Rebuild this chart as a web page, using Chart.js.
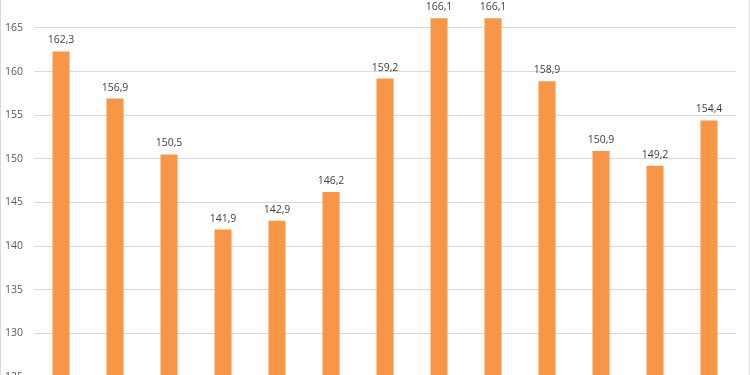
<!DOCTYPE html>
<html>
<head>
<meta charset="utf-8">
<script src="https://cdn.jsdelivr.net/npm/chart.js@4/dist/chart.umd.min.js"></script>
<style>
  html, body { margin: 0; padding: 0; overflow: hidden; background: #fff; }
  #frame {
    position: absolute; left: 0; top: -33px;
    width: 750px; height: 433px;
    box-sizing: border-box;
    border-left: 1px solid #d9d9d9;
    border-right: 1px solid #d9d9d9;
  }
</style>
</head>
<body>
<div id="frame"><canvas id="grafico"></canvas></div>
<script>
// dados
const categorias = ['1', '2', '3', '4', '5', '6', '7', '8', '9', '10', '11', '12', '13'];
const valores = [162.3, 156.9, 150.5, 141.9, 142.9, 146.2, 159.2, 166.1, 166.1, 158.9, 150.9, 149.2, 154.4];
const ticksY = [125, 130, 135, 140, 145, 150, 155, 160, 165];

const fonte = "'Open Sans', 'Noto Sans', sans-serif";

// rótulos de valor acima das barras
const rotulos = {
  id: 'rotulos',
  afterDatasetsDraw(chart) {
    const ctx = chart.ctx;
    const meta = chart.getDatasetMeta(0);
    ctx.save();
    ctx.font = '10.5px ' + fonte;
    ctx.fillStyle = '#404040';
    ctx.textAlign = 'center';
    ctx.textBaseline = 'middle';
    meta.data.forEach((bar, i) => {
      ctx.fillText(valores[i].toFixed(1).replace('.', ','), bar.x, bar.y - 11);
    });
    ctx.restore();
  }
};

new Chart(document.getElementById('grafico'), {
  type: 'bar',
  data: {
    labels: categorias,
    datasets: [{
      data: valores,
      backgroundColor: '#f79646',
      borderWidth: 0,
      categoryPercentage: 1,
      barPercentage: 0.315
    }]
  },
  options: {
    responsive: true,
    maintainAspectRatio: false,
    animation: false,
    layout: { padding: { left: 0, right: 13, top: 0, bottom: 15 } },
    plugins: { legend: { display: false }, tooltip: { enabled: false } },
    scales: {
      x: {
        ticks: { display: false },
        grid: { display: false },
        border: { display: false }
      },
      y: {
        min: 125,
        max: 170,
        afterBuildTicks: (axis) => { axis.ticks = ticksY.map(v => ({ value: v })); },
        afterFit: (axis) => { axis.width = 33; },
        ticks: {
          color: '#595959',
          font: { family: fonte, size: 10.5 },
          padding: 11
        },
        grid: { color: '#d9d9d9', drawTicks: false },
        border: { display: false }
      }
    }
  },
  plugins: [rotulos]
});
</script>
</body>
</html>
